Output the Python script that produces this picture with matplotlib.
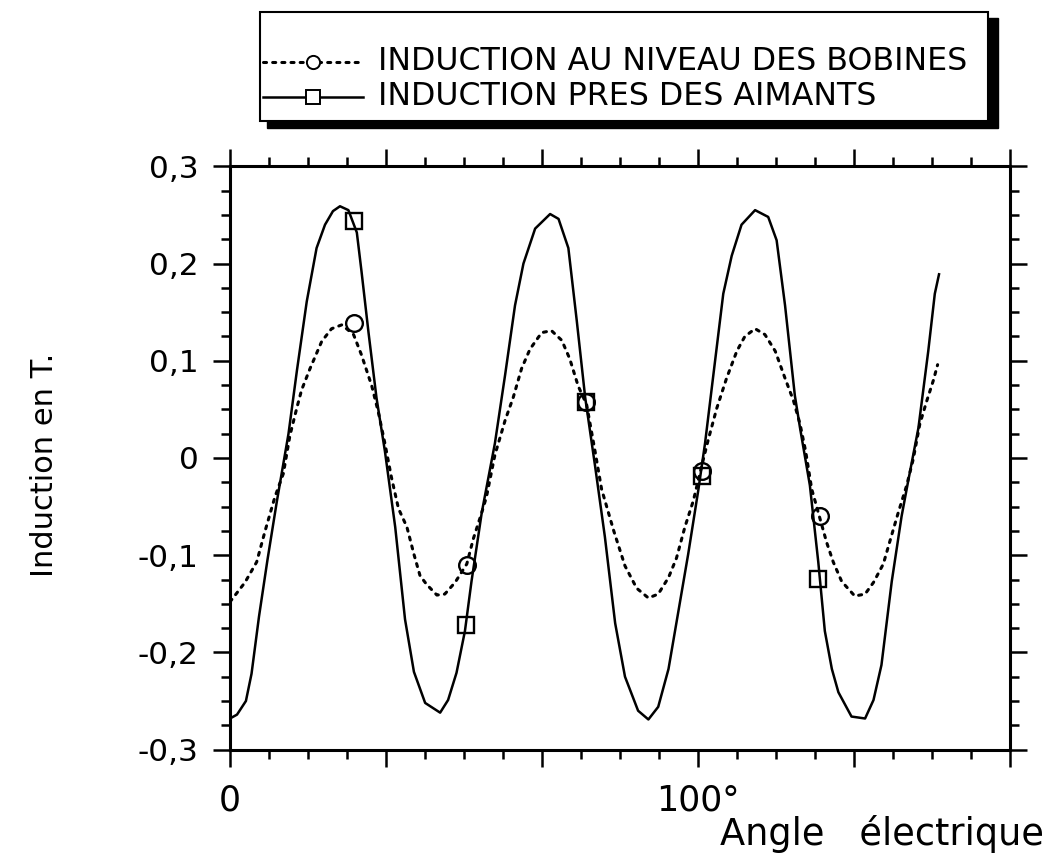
import matplotlib
matplotlib.use("Agg")
import matplotlib.pyplot as plt
from matplotlib.ticker import MultipleLocator, FuncFormatter
from matplotlib.patches import Rectangle
from matplotlib.lines import Line2D

plt.rcParams['font.family'] = ['DejaVu Sans']

# induction pres des aimants (trait plein)
aimant_x = [0, 1.5, 3.4, 4.6, 6.2, 8.0, 10.0, 12.5, 14.3, 16.4, 18.5, 20.3, 22.0, 23.5,
            25.3, 27.1, 28.1, 29.6, 31.3, 33.1, 35.3, 37.4, 39.3, 41.7, 44.9, 46.6,
            48.4, 50.2, 51.6, 53.8, 56.6, 58.8, 60.9, 62.7, 65.2, 68.4, 70.2, 72.3,
            74.1, 75.9, 78.0, 80.1, 82.3, 84.4, 87.2, 89.4, 91.5, 93.7, 95.8, 97.9,
            100.1, 101.5, 103.6, 105.4, 107.2, 109.3, 112.2, 115.0, 116.8, 118.6,
            120.7, 121.8, 123.9, 125.7, 127.1, 128.6, 130.0, 132.8, 135.7, 137.5,
            139.2, 141.4, 143.5, 144.9, 147.1, 149.2, 150.6, 151.5]
aimant_y = [-0.268, -0.264, -0.250, -0.222, -0.163, -0.105, -0.045, 0.025, 0.090, 0.161,
            0.216, 0.240, 0.254, 0.259, 0.255, 0.232, 0.192, 0.129, 0.062, 0.007,
            -0.071, -0.166, -0.220, -0.252, -0.262, -0.249, -0.221, -0.178, -0.127,
            -0.056, 0.015, 0.086, 0.157, 0.200, 0.236, 0.251, 0.246, 0.216, 0.141,
            0.062, -0.008, -0.081, -0.170, -0.225, -0.260, -0.269, -0.256, -0.217,
            -0.158, -0.099, -0.032, 0.015, 0.098, 0.169, 0.208, 0.240, 0.255, 0.248,
            0.224, 0.157, 0.064, 0.031, -0.028, -0.107, -0.178, -0.217, -0.241,
            -0.266, -0.268, -0.249, -0.213, -0.127, -0.060, -0.024, 0.031, 0.110,
            0.169, 0.189]

# induction au niveau des bobines (pointilles)
bobine_x = [0, 3.2, 5.7, 7.5, 9.6, 11.4, 12.8, 14.25, 15.3, 17.1, 19.6, 21.7, 23.9, 26.4,
            28.1, 30.3, 31.7, 33.1, 34.5, 36.0, 37.8, 39.3, 40.6, 42.0, 44.2, 45.9,
            48.1, 50.6, 52.0, 53.8, 54.8, 56.6, 58.8, 60.5, 62.3, 64.1, 66.6, 68.7,
            70.9, 72.6, 74.4, 76.2, 78.0, 79.4, 82.0, 84.4, 86.9, 89.4, 91.5, 93.7,
            95.4, 97.2, 99.0, 100.8, 102.2, 104.0, 106.1, 108.3, 110.0, 112.2, 114.3,
            116.5, 118.6, 120.4, 121.8, 123.0, 124.3, 126.1, 127.5, 128.9, 130.7,
            133.5, 135.7, 137.5, 139.6, 141.4, 142.8, 144.6, 146.0, 147.4, 148.9,
            150.3, 151.2]
bobine_y = [-0.148, -0.128, -0.107, -0.075, -0.040, -0.016, 0.023, 0.051, 0.070, 0.092,
            0.120, 0.133, 0.137, 0.127, 0.106, 0.074, 0.047, 0.015, -0.020, -0.052,
            -0.071, -0.099, -0.121, -0.130, -0.141, -0.140, -0.128, -0.109, -0.083,
            -0.056, -0.040, 0.003, 0.039, 0.062, 0.092, 0.112, 0.129, 0.131, 0.121,
            0.102, 0.074, 0.055, 0.007, -0.032, -0.075, -0.111, -0.134, -0.144,
            -0.140, -0.123, -0.103, -0.071, -0.044, -0.008, 0.019, 0.051, 0.082,
            0.110, 0.125, 0.133, 0.127, 0.110, 0.082, 0.059, 0.035, 0.007, -0.032,
            -0.063, -0.087, -0.107, -0.127, -0.142, -0.140, -0.128, -0.109, -0.079,
            -0.056, -0.028, -0.001, 0.035, 0.059, 0.080, 0.096]

# marqueurs
mark_bob_x = [26.4, 50.6, 76.0, 100.9, 126.0]
mark_bob_y = [0.139, -0.110, 0.058, -0.013, -0.060]
mark_aim_x = [26.6, 50.4, 76.0, 100.9, 125.7]
mark_aim_y = [0.244, -0.172, 0.058, -0.019, -0.124]

labels = ['INDUCTION AU NIVEAU DES BOBINES', 'INDUCTION PRES DES AIMANTS']

W, H = 1047, 865
fig = plt.figure(figsize=(W / 100, H / 100), dpi=100)


def fx(px):
    return px / W


def fy(py):
    return 1 - py / H


ax = fig.add_axes([fx(230), fy(749.6), 780 / W, 583.2 / H])
dotted = (0, (1, 2.0))
ax.plot(bobine_x, bobine_y, color='k', lw=2.2, linestyle=dotted, dash_capstyle='round')
ax.plot(aimant_x, aimant_y, color='k', lw=1.8)
ax.plot(mark_bob_x, mark_bob_y, 'o', ms=12, mfc='none', mec='k', mew=1.7)
ax.plot(mark_aim_x, mark_aim_y, 's', ms=12, mfc='none', mec='k', mew=1.7)

ax.set_xlim(0, 500 / 3)
ax.set_ylim(-0.3, 0.3)
ax.xaxis.set_major_locator(MultipleLocator(100 / 3))
ax.xaxis.set_minor_locator(MultipleLocator(100 / 12))
ax.yaxis.set_major_locator(MultipleLocator(0.1))
ax.yaxis.set_minor_locator(MultipleLocator(0.025))


def xfmt(v, pos):
    if abs(v) < 1e-6:
        return '0'
    if abs(v - 100) < 1e-6:
        return '100°'
    return ''


def yfmt(v, pos):
    if abs(v) < 1e-9:
        return '0'
    return f'{v:.1f}'.replace('.', ',')


ax.xaxis.set_major_formatter(FuncFormatter(xfmt))
ax.yaxis.set_major_formatter(FuncFormatter(yfmt))

ax.tick_params(which='both', direction='out', top=True, right=True, width=1.8)
ax.tick_params(which='major', length=12.5)
ax.tick_params(which='minor', length=6.5)
ax.tick_params(axis='x', labelsize=25, pad=12)
ax.tick_params(axis='y', labelsize=22.5, pad=10)
for sp in ax.spines.values():
    sp.set_linewidth(2.2)

fig.text(fx(45), fy(465), 'Induction en T.', rotation=90, ha='center', va='center', fontsize=22)
fig.text(fx(1044), fy(845), 'Angle   électrique', ha='right', va='baseline', fontsize=26.5)

# legende dessinee a la main (cadre avec ombre)
fig.add_artist(Rectangle((fx(267), fy(128)), 731 / W, 110 / H, transform=fig.transFigure,
                         facecolor='k', edgecolor='k'))
fig.add_artist(Rectangle((fx(260), fy(121)), 728 / W, 109 / H, transform=fig.transFigure,
                         facecolor='white', edgecolor='k', lw=1.5))
rows = [61.5, 96.5]
fig.add_artist(Line2D([fx(263), fx(363)], [fy(rows[0])] * 2, transform=fig.transFigure,
                      color='k', lw=2.2, linestyle=dotted, dash_capstyle='round'))
fig.add_artist(Line2D([fx(313)], [fy(rows[0])], transform=fig.transFigure, marker='o',
                      ms=9.5, mfc='white', mec='k', mew=1.4))
fig.add_artist(Line2D([fx(263), fx(363)], [fy(rows[1])] * 2, transform=fig.transFigure,
                      color='k', lw=1.8))
fig.add_artist(Line2D([fx(313)], [fy(rows[1])], transform=fig.transFigure, marker='s',
                      ms=9.5, mfc='white', mec='k', mew=1.4))
for r, lab in zip(rows, labels):
    fig.text(fx(378), fy(r), lab, ha='left', va='center', fontsize=22.8)

fig.savefig('out.png', dpi=100)
